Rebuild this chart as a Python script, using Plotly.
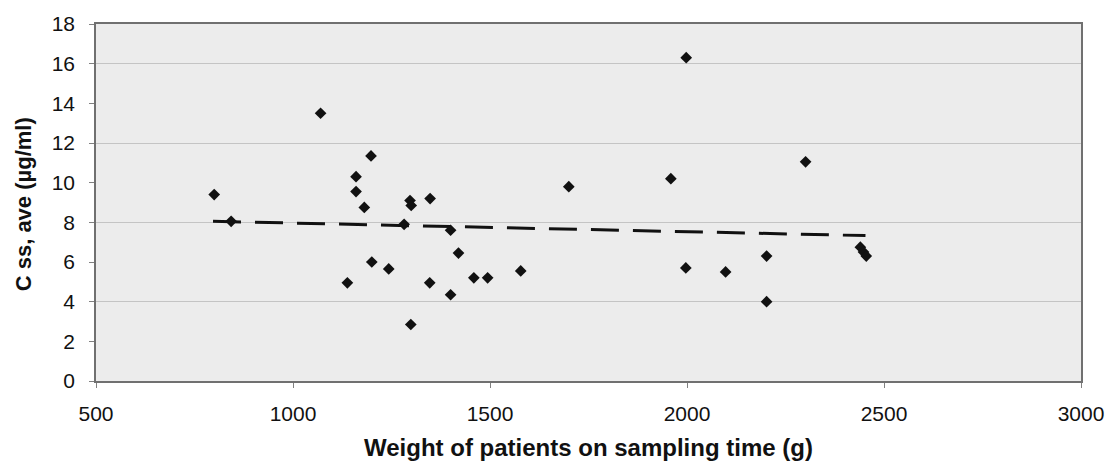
import plotly.graph_objects as go

weight_g = [800, 843, 1070, 1138, 1160, 1160, 1181, 1198, 1200, 1243, 1282, 1297, 1300,
            1299, 1347, 1348, 1400, 1400, 1420, 1459, 1494, 1578, 1700, 1959, 1997, 1998,
            2098, 2202, 2202, 2301, 2440, 2448, 2455]
css_ave = [9.4, 8.05, 13.5, 4.95, 10.3, 9.55, 8.75, 11.35, 6.0, 5.65, 7.9, 9.1, 8.85,
           2.85, 4.95, 9.2, 7.6, 4.35, 6.45, 5.2, 5.2, 5.55, 9.8, 10.2, 5.7, 16.3,
           5.5, 6.3, 4.0, 11.05, 6.75, 6.5, 6.3]
trend_x = [797, 2453]
trend_y = [8.05, 7.33]
x_ticks = [500, 1000, 1500, 2000, 2500, 3000]
y_ticks = [0, 2, 4, 6, 8, 10, 12, 14, 16, 18]
grid_y = [4, 8, 12, 16]

FONT = "Liberation Sans, Arial, sans-serif"

fig = go.Figure()
# invisible trace on the grid axis
fig.add_trace(go.Scatter(x=[None], y=[None], yaxis="y2", showlegend=False))
fig.add_trace(go.Scatter(x=trend_x, y=trend_y, mode="lines",
                         line=dict(color="#111111", width=3, dash="28px,14px"),
                         showlegend=False, hoverinfo="skip"))
fig.add_trace(go.Scatter(x=weight_g, y=css_ave, mode="markers",
                         marker=dict(symbol="diamond", size=9, color="#111111"),
                         showlegend=False))

fig.update_layout(
    width=1116, height=465,
    margin=dict(l=96, r=29, t=24, b=84),
    paper_bgcolor="white",
    plot_bgcolor="#ececec",
    font=dict(family=FONT, color="#111111"),
    xaxis=dict(range=[500, 3000], tickvals=x_ticks, showgrid=False, zeroline=False,
               showline=True, linecolor="#707070", linewidth=1.5, mirror=True,
               ticks="outside", ticklen=5, tickcolor="#808080",
               tickfont=dict(size=21, family=FONT), ticklabelstandoff=8),
    yaxis=dict(range=[0, 18], tickvals=y_ticks, showgrid=False, zeroline=False,
               showline=True, linecolor="#707070", linewidth=1.5, mirror=True,
               ticks="outside", ticklen=5, tickcolor="#808080",
               tickfont=dict(size=21, family=FONT), ticklabelstandoff=10),
    yaxis2=dict(range=[0, 18], tickvals=grid_y, overlaying="y", side="right",
                showgrid=True, gridcolor="#c4c4c4", gridwidth=1,
                showticklabels=False, ticks="", zeroline=False, showline=False),
    annotations=[
        dict(text="Weight of patients on sampling time (g)", xref="paper", yref="paper",
             x=0.5, y=-0.185, xanchor="center", yanchor="middle", showarrow=False,
             font=dict(size=24, family=FONT, color="#111111", weight="bold")),
        dict(text="C ss, ave (µg/ml)", xref="paper", yref="paper",
             x=-0.0727, y=0.496, xanchor="center", yanchor="middle", showarrow=False,
             textangle=-90,
             font=dict(size=22, family=FONT, color="#111111", weight="bold")),
    ],
)

fig.write_html("out.html")
